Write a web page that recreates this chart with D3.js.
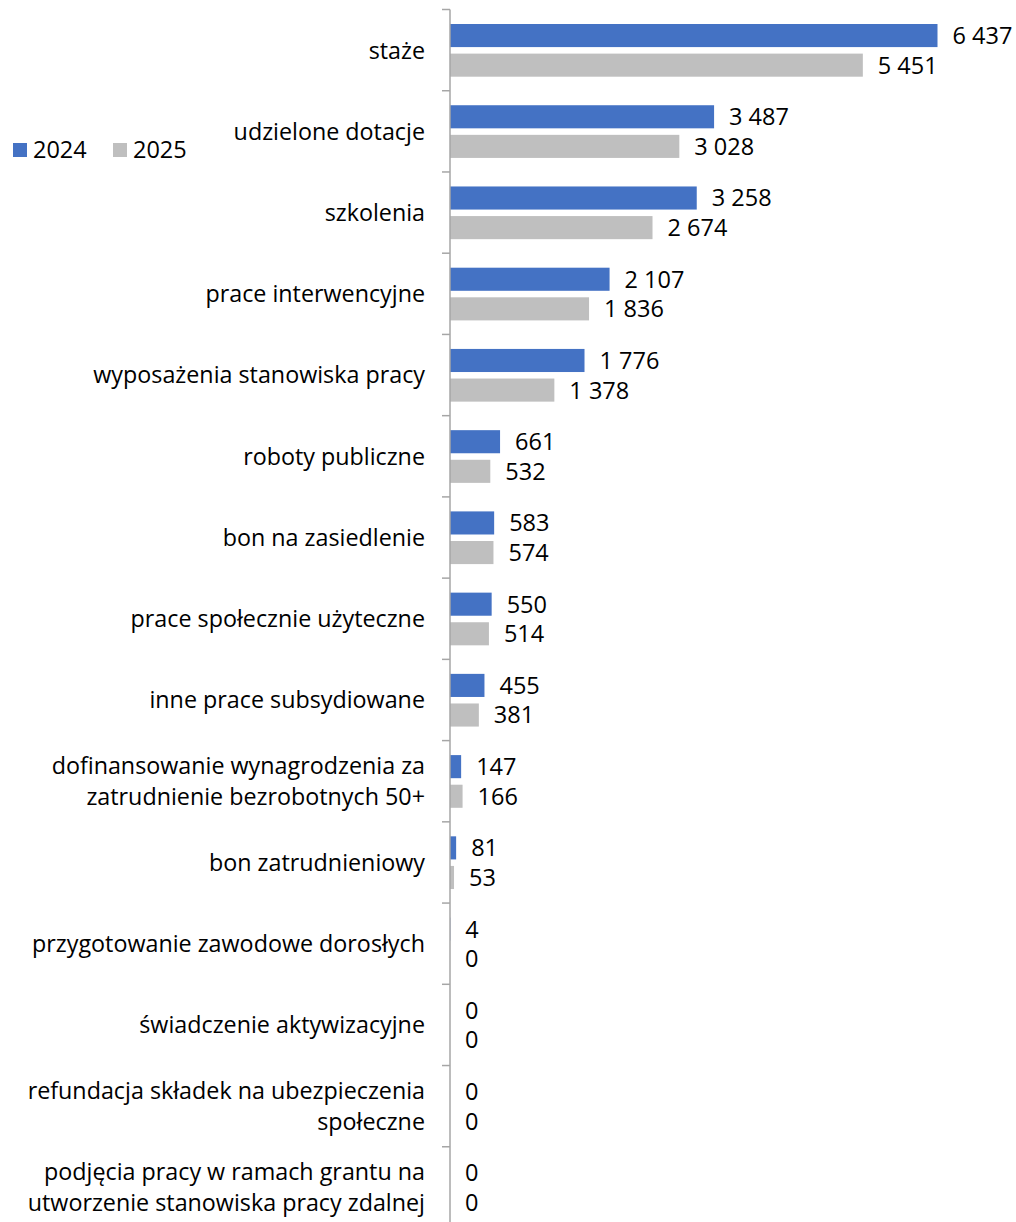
<!DOCTYPE html>
<html><head><meta charset="utf-8">
<script src="https://cdn.jsdelivr.net/npm/d3@7"></script>
<style>body{margin:0;background:#fff;} svg{display:block;} text{font-family:"Open Sans", sans-serif;fill:#000;}</style>
</head><body>
<svg id="c" width="1016" height="1222"></svg>
<script>
const categories = [
  ["staże"],
  ["udzielone dotacje"],
  ["szkolenia"],
  ["prace interwencyjne"],
  ["wyposażenia stanowiska pracy"],
  ["roboty publiczne"],
  ["bon na zasiedlenie"],
  ["prace społecznie użyteczne"],
  ["inne prace subsydiowane"],
  ["dofinansowanie wynagrodzenia za", "zatrudnienie bezrobotnych 50+"],
  ["bon zatrudnieniowy"],
  ["przygotowanie zawodowe dorosłych"],
  ["świadczenie aktywizacyjne"],
  ["refundacja składek na ubezpieczenia", "społeczne"],
  ["podjęcia pracy w ramach grantu na", "utworzenie stanowiska pracy zdalnej"]
];
const values2024 = [6437, 3487, 3258, 2107, 1776, 661, 583, 550, 455, 147, 81, 4, 0, 0, 0];
const values2025 = [5451, 3028, 2674, 1836, 1378, 532, 574, 514, 381, 166, 53, 0, 0, 0, 0];
const seriesNames = ["2024", "2025"];
const colors = ["#4472C4", "#BFBFBF"];

const svg = d3.select("#c");
const fmt = v => d3.format(",")(v).replace(/,/g, " ");
const idx = d3.range(categories.length);
const y = d3.scaleBand().domain(idx).range([9.5, 1228]);
const x = d3.scaleLinear().domain([0, 6437]).range([450, 937.5]);
const sub = d3.scaleBand().domain([0,1]).range([14.5, 67.2]).paddingInner(0.22);

const series = [values2024, values2025];
series.forEach((vals, s) => {
  svg.append("g").selectAll("rect").data(idx).join("rect")
    .attr("x", x(0)).attr("y", i => y(i) + sub(s))
    .attr("width", i => x(vals[i]) - x(0)).attr("height", sub.bandwidth())
    .attr("fill", colors[s]);
  svg.append("g").selectAll("text").data(idx).join("text")
    .attr("x", i => x(vals[i]) + 15).attr("y", i => y(i) + sub(s) + sub.bandwidth()/2)
    .attr("dy", "0.36em").attr("font-size", 23.5).text(i => fmt(vals[i]));
});

// axis
svg.append("g").selectAll("line").data(idx).join("line")
  .attr("x1", x(0) - 8).attr("x2", x(0)).attr("y1", i => y(i)).attr("y2", i => y(i))
  .attr("stroke", "#A6A6A6").attr("stroke-width", 1.5);
svg.append("line").attr("x1", x(0)).attr("x2", x(0)).attr("y1", y.range()[0]).attr("y2", 1222)
  .attr("stroke", "#A6A6A6").attr("stroke-width", 1.5);

// category labels
idx.forEach(i => {
  const lines = categories[i];
  const cy = y(i) + y.bandwidth()/2;
  const t = svg.append("text").attr("text-anchor", "end").attr("font-size", 23.3);
  lines.forEach((l, k) => {
    t.append("tspan").attr("x", 425)
      .attr("y", cy + (k - (lines.length - 1)/2) * 31).attr("dy", "0.36em").text(l);
  });
});

// legend
const lg = svg.append("g");
seriesNames.forEach((n, s) => {
  const lx = [13, 113][s];
  lg.append("rect").attr("x", lx).attr("y", 143).attr("width", 14).attr("height", 14).attr("fill", colors[s]);
  lg.append("text").attr("x", lx + 20).attr("y", 150).attr("dy", "0.36em").attr("font-size", 23.5).text(n);
});
</script>
</body></html>
